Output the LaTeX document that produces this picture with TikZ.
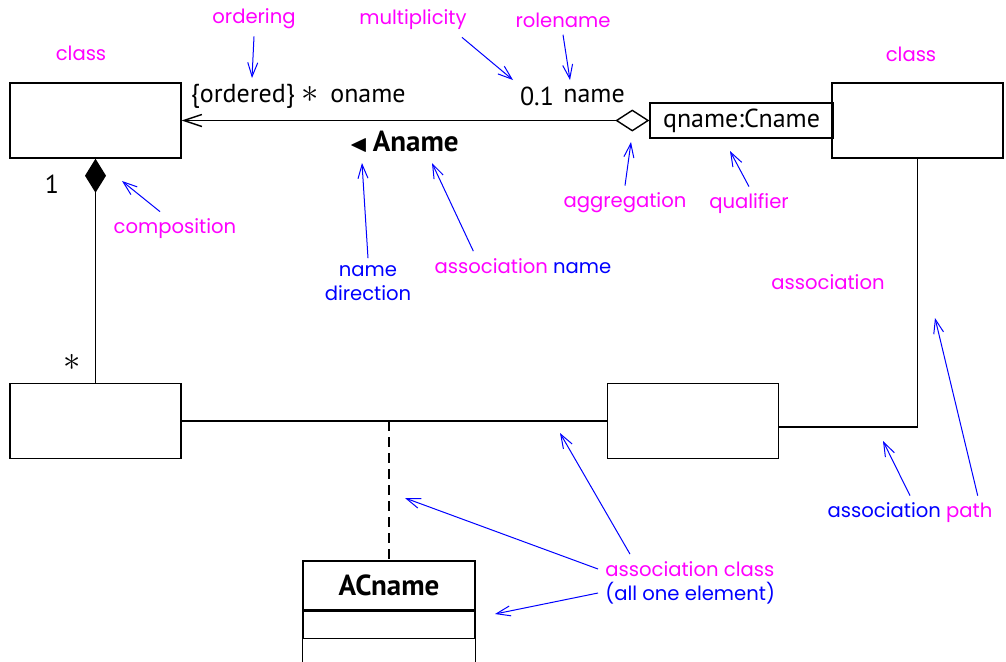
\documentclass[tikz,border=0pt]{standalone}
\usepackage{amssymb}
\usepackage{fontspec}
\setmainfont{PT Sans}
\newfontfamily\notefont{Poppins}
\usetikzlibrary{arrows.meta, positioning}
\definecolor{notepink}{RGB}{255,0,255}
\definecolor{noteblue}{RGB}{0,0,255}

\begin{document}
\begin{tikzpicture}[
				x=0.5pt, y=-0.5pt,
				line width=0.7pt,
				classbox/.style={rectangle, draw=black, minimum width=85.5pt, minimum height=37.5pt, inner sep=0pt},
				qualbox/.style={rectangle, draw=black, minimum width=91.5pt, minimum height=17.5pt, inner sep=0pt, font=\fontsize{13}{15}\selectfont},
				umltext/.style={font=\fontsize{13}{15}\selectfont},
				boldtext/.style={font=\bfseries\fontsize{14.5}{17}\selectfont},
				note/.style={font=\notefont\fontsize{9.8}{12}\selectfont, text=notepink},
				bluenote/.style={note, text=noteblue},
				notearrow/.style={-{Straight Barb[length=7pt,width=5pt]}, draw=noteblue, line width=0.5pt}
				]
				
				\useasboundingbox (0,0) rectangle (1006,661);
				
				% classes
				\node[classbox] (tl) at (95.5,120.5) {};
				\node[classbox] (tr) at (917.5,120.5) {};
				\node[classbox] (bl) at (95.5,421) {};
				\node[classbox] (br) at (693,421) {};
				\node[qualbox] (qual) at (741.5,120.5) {qname:Cname};
				
				% association class
				\node[rectangle, draw=black, minimum width=86pt, minimum height=24.5pt, inner sep=0pt, boldtext] (ac) at (389,585.5) {ACname};
				\node[rectangle, draw=black, minimum width=86pt, minimum height=13.5pt, inner sep=0pt, below=0pt of ac] (acattr) {};
				\coordinate (acmid) at (ac.north |- bl.east);
				
				% adornments
				\node[umltext] (ordered) at (255,96) {\{ordered\}~{\LARGE$\ast$}};
				\node[umltext] (oname) at (368,96) {oname};
				\node[umltext] (mult) at (537,96) {0.1};
				\node[umltext] (role) at (594,96) {name};
				\node[boldtext] (aname) at (404,142) {{\large$\blacktriangleleft$}\,Aname};
				\node[umltext] (one) at (52,184) {1};
				\node[umltext] (many) at (72,362) {\LARGE$\ast$};
				
				% notes
				\node[note] (classl) at (81,53) {class};
				\node[note] (classr) at (911,54) {class};
				\node[note] (ordl) at (254,19) {ordering};
				\node[note] (multl) at (413,20) {multiplicity};
				\node[note] (rolel) at (563,20) {rolename};
				\node[note] (aggl) at (625,203) {aggregation};
				\node[note] (quall) at (749,204) {qualifier};
				\node[note] (compl) at (175,229) {composition};
				\node[bluenote, align=center] (ndirl) at (368,283) {name\\direction};
				\node[note] (anamel) at (523,266) {association {\color{noteblue}name}};
				\node[note] (assocl) at (828,282) {association};
				\node[bluenote] (apathl) at (910,513) {association {\color{notepink}path}};
				\node[note, anchor=west] (acl1) at (598,569) {association class};
				\node[bluenote, anchor=west] (acl2) at (598,593) {(all one element)};
				
				% arrow targets
				\coordinate (ordt) at (252,78);
				\coordinate (multt) at (513,80);
				\coordinate (rolet) at (570,80);
				\coordinate (aggt) at (631,142);
				\coordinate (qualt) at (730,151);
				\coordinate (compt) at (122,181);
				\coordinate (ndirt) at (362,163);
				\coordinate (anamet) at (432,163);
				\coordinate (apatht1) at (883,441);
				\coordinate (apatht2) at (935,318);
				\coordinate (aclt1) at (560,433);
				\coordinate (aclt2) at (405,498);
				\coordinate (aclt3) at (495,614);
				
				% links
				\draw[{Straight Barb[length=9pt,width=6pt]}-{Diamond[open,length=17pt,width=11pt]}] (tl.east) -- (qual.west);
				\draw[{Diamond[length=17pt,width=10.5pt]}-] (tl.south) -- (bl.north);
				\draw (bl.east) -- (br.west);
				\draw ([yshift=-3pt]br.east) -| (tr.south);
				\draw[dashed, dash pattern=on 5pt off 3pt] (acmid) -- (ac.north);
				\draw (acattr.south west) -- ++(0,40);
				\draw (acattr.south east) -- ++(0,40);
				
				% note arrows
				\draw[notearrow] (ordl.south) -- (ordt);
				\draw[notearrow] ([xshift=-6pt]multl.south east) -- (multt);
				\draw[notearrow] (rolel.south) -- (rolet);
				\draw[notearrow] (aggl.north) -- (aggt);
				\draw[notearrow] (quall.north) -- (qualt);
				\draw[notearrow] ([xshift=-7.5pt]compl.north) -- (compt);
				\draw[notearrow] (ndirl.north) -- (ndirt);
				\draw[notearrow] ([xshift=23pt]anamel.north west) -- (anamet);
				\draw[notearrow] (apathl.north) -- (apatht1);
				\draw[notearrow] ([xshift=-11pt]apathl.north east) -- (apatht2);
				\draw[notearrow] ([xshift=16pt]acl1.north west) -- (aclt1);
				\draw[notearrow] (acl1.west) -- (aclt2);
				\draw[notearrow] (acl2.west) -- (aclt3);
				
			\end{tikzpicture}
\end{document}
